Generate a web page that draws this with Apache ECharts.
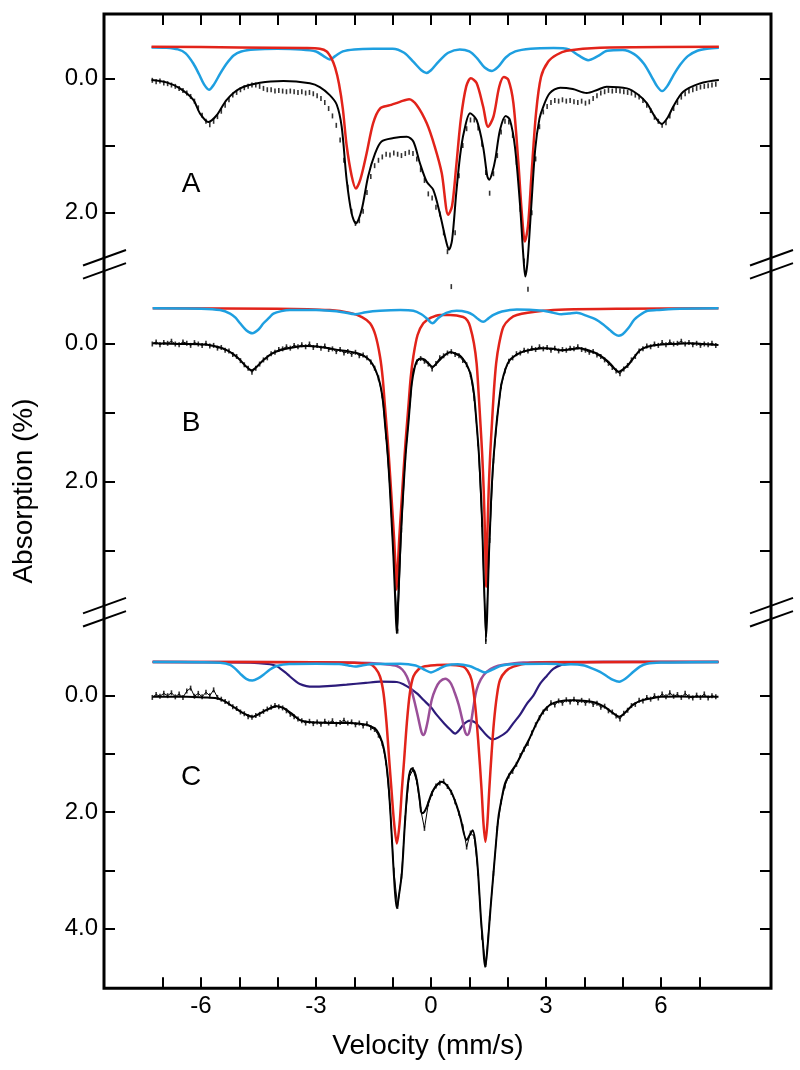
<!DOCTYPE html>
<html><head><meta charset="utf-8">
<script src="https://cdn.jsdelivr.net/npm/echarts/dist/echarts.min.js"></script>
<style>html,body{margin:0;padding:0;background:#fff}#c{width:800px;height:1070px}</style>
</head><body><div id="c"></div>
<script>
// ---------- axis ticks / labels ----------
const X_TICKS = [-7,-6,-5,-4,-3,-2,-1,0,1,2,3,4,5,6,7];
const X_LABELS = [-6,-3,0,3,6];
const A_TICKS = [0,1,2],   A_LABELS = [0,2];
const B_TICKS = [0,1,2,3], B_LABELS = [0,2];
const C_TICKS = [0,1,2,3,4], C_LABELS = [0,2,4];
const PANEL_NAMES = ['A','B','C'];

// ---------- experimental channels (velocity of channel i = VEL0 + i*DV) ----------
const VEL0 = -7.27, DV = 0.1;
const A_DATA = [0.03,0.05,0.04,0.07,0.08,0.10,0.12,0.15,0.18,0.22,
0.27,0.34,0.44,0.55,0.64,0.69,0.64,0.57,0.49,0.40,
0.32,0.25,0.21,0.17,0.14,0.12,0.10,0.10,0.12,0.15,
0.17,0.17,0.19,0.18,0.19,0.20,0.19,0.20,0.21,0.20,
0.22,0.21,0.23,0.26,0.30,0.36,0.45,0.56,0.70,0.92,
1.22,1.62,1.98,2.16,2.12,1.98,1.70,1.46,1.30,1.22,
1.17,1.13,1.14,1.11,1.13,1.15,1.12,1.10,1.12,1.20,
1.36,1.52,1.72,1.78,1.92,2.02,2.30,2.58,3.10,2.30,
1.45,1.00,0.75,0.62,0.62,0.74,0.98,1.40,1.71,1.42,
1.15,0.80,0.64,0.65,0.85,1.25,1.95,2.72,3.14,2.00,
1.20,0.72,0.50,0.42,0.36,0.33,0.34,0.32,0.34,0.33,
0.35,0.36,0.34,0.37,0.35,0.30,0.26,0.22,0.20,0.18,
0.19,0.18,0.19,0.20,0.21,0.22,0.25,0.28,0.33,0.40,
0.48,0.58,0.64,0.70,0.66,0.56,0.45,0.36,0.28,0.23,
0.19,0.17,0.15,0.13,0.12,0.11,0.10,0.09];
const B_DATA = [0.01,-0.02,0.02,-0.01,0.00,-0.03,0.01,0.02,-0.02,0.00,
0.03,-0.01,0.01,0.03,0.00,0.04,0.03,0.07,0.06,0.10,
0.11,0.16,0.19,0.25,0.31,0.36,0.42,0.36,0.30,0.24,
0.21,0.15,0.13,0.09,0.08,0.05,0.07,0.03,0.05,0.02,
0.05,0.01,0.06,0.03,0.07,0.04,0.09,0.08,0.12,0.09,
0.14,0.12,0.16,0.13,0.18,0.17,0.21,0.27,0.36,0.50,
0.76,1.35,2.12,3.15,4.16,2.70,1.65,1.02,0.40,0.27,
0.22,0.26,0.30,0.37,0.29,0.21,0.18,0.14,0.12,0.16,
0.18,0.25,0.31,0.45,0.80,1.45,2.62,4.31,2.85,1.70,
1.08,0.62,0.40,0.26,0.21,0.15,0.14,0.10,0.11,0.07,
0.09,0.05,0.08,0.06,0.10,0.07,0.11,0.09,0.10,0.07,
0.08,0.05,0.09,0.10,0.13,0.12,0.17,0.19,0.24,0.29,
0.35,0.40,0.44,0.37,0.32,0.24,0.19,0.11,0.08,0.04,
0.05,0.01,0.03,-0.01,0.02,-0.02,0.01,0.00,-0.03,0.01,
-0.01,0.02,0.00,0.03,0.01,0.02,0.00,0.03];
const C_DATA = [0.03,-0.02,0.01,-0.04,0.00,-0.05,0.02,-0.03,0.03,-0.08,
-0.13,0.01,-0.04,0.02,-0.06,0.00,-0.10,0.03,0.06,0.10,
0.13,0.19,0.22,0.28,0.31,0.36,0.37,0.34,0.32,0.27,
0.23,0.20,0.17,0.19,0.21,0.26,0.32,0.36,0.40,0.43,
0.47,0.44,0.48,0.45,0.49,0.44,0.47,0.43,0.49,0.46,
0.42,0.47,0.45,0.50,0.47,0.52,0.48,0.55,0.58,0.68,
0.82,1.15,1.90,3.00,3.62,3.10,2.10,1.40,1.27,1.48,
1.95,2.28,1.86,1.68,1.55,1.50,1.47,1.56,1.66,1.82,
2.02,2.25,2.60,2.36,2.42,3.05,4.15,4.62,3.82,3.05,
2.28,1.82,1.55,1.38,1.30,1.18,1.03,0.92,0.82,0.64,
0.50,0.38,0.28,0.22,0.12,0.16,0.09,0.13,0.07,0.11,
0.06,0.12,0.08,0.13,0.09,0.15,0.13,0.20,0.18,0.26,
0.28,0.35,0.40,0.30,0.25,0.17,0.15,0.08,0.09,0.03,
0.06,0.00,0.04,-0.03,0.02,-0.05,0.01,-0.02,0.03,-0.04,
0.02,0.04,-0.01,0.03,-0.03,0.04,0.00,0.02];

// ---------- fitted curves (velocity, absorption) ----------
const A_FIT = [[-7.29,0.025],[-6.9,0.06],[-6.55,0.15],[-6.2,0.32],[-6.03,0.52],[-5.81,0.65],[-5.59,0.55],[-5.33,0.32],[-4.98,0.15],[-4.46,0.065],[-3.85,0.04],[-3.16,0.075],[-2.9,0.13],[-2.64,0.25],[-2.46,0.39],[-2.33,0.72],[-2.20,1.51],[-2.07,2.01],[-1.96,2.16],[-1.81,1.96],[-1.64,1.46],[-1.46,1.12],[-1.29,0.94],[-0.98,0.89],[-0.63,0.87],[-0.46,0.94],[-0.29,1.26],[-0.11,1.54],[0.06,1.66],[0.23,2.01],[0.41,2.46],[0.47,2.55],[0.55,2.41],[0.66,1.70],[0.76,1.15],[0.86,0.80],[1.02,0.52],[1.19,0.62],[1.36,1.02],[1.47,1.46],[1.52,1.51],[1.60,1.40],[1.68,1.20],[1.80,0.77],[1.95,0.56],[2.06,0.62],[2.19,1.02],[2.32,1.86],[2.41,2.65],[2.46,2.95],[2.52,2.72],[2.61,1.96],[2.72,1.05],[2.83,0.60],[2.93,0.42],[3.10,0.22],[3.37,0.14],[3.7,0.16],[4.06,0.22],[4.35,0.17],[4.58,0.125],[5.11,0.15],[5.4,0.24],[5.63,0.37],[5.85,0.58],[6.02,0.68],[6.18,0.58],[6.32,0.42],[6.58,0.2],[7.02,0.075],[7.51,0.025]];
const A_RED = [[-7.29,-0.47],[-5.0,-0.46],[-3.3,-0.45],[-2.9,-0.44],[-2.72,-0.40],[-2.6,-0.30],[-2.5,-0.16],[-2.4,0.08],[-2.3,0.45],[-2.2,1.0],[-2.07,1.45],[-1.96,1.64],[-1.84,1.50],[-1.68,1.12],[-1.51,0.67],[-1.33,0.45],[-1.07,0.40],[-0.81,0.35],[-0.57,0.31],[-0.37,0.40],[-0.11,0.67],[0.10,1.02],[0.28,1.41],[0.45,2.03],[0.55,1.90],[0.66,1.30],[0.78,0.60],[0.92,0.12],[1.04,0.0],[1.19,0.07],[1.36,0.42],[1.49,0.72],[1.63,0.57],[1.78,0.125],[1.90,-0.02],[2.02,0.025],[2.15,0.37],[2.28,1.26],[2.37,2.01],[2.45,2.43],[2.53,2.20],[2.62,1.45],[2.74,0.52],[2.87,-0.02],[3.06,-0.25],[3.28,-0.35],[3.54,-0.41],[4.41,-0.455],[7.51,-0.47]];
const A_SKY = [[-7.29,-0.46],[-6.9,-0.455],[-6.6,-0.43],[-6.4,-0.37],[-6.2,-0.22],[-6.05,-0.06],[-5.92,0.09],[-5.79,0.17],[-5.66,0.09],[-5.5,-0.07],[-5.33,-0.22],[-5.15,-0.34],[-4.95,-0.40],[-4.6,-0.43],[-4.0,-0.44],[-3.4,-0.43],[-3.0,-0.40],[-2.8,-0.33],[-2.64,-0.28],[-2.5,-0.33],[-2.3,-0.40],[-2.0,-0.43],[-1.5,-0.44],[-1.0,-0.44],[-0.7,-0.38],[-0.45,-0.24],[-0.25,-0.12],[-0.12,-0.08],[0.0,-0.12],[0.2,-0.25],[0.45,-0.38],[0.75,-0.43],[1.0,-0.40],[1.2,-0.30],[1.4,-0.16],[1.59,-0.11],[1.75,-0.17],[1.95,-0.31],[2.2,-0.40],[2.6,-0.44],[3.2,-0.45],[3.6,-0.43],[3.85,-0.34],[4.1,-0.27],[4.35,-0.33],[4.6,-0.41],[5.0,-0.42],[5.3,-0.36],[5.55,-0.22],[5.75,-0.03],[5.9,0.12],[6.03,0.19],[6.16,0.12],[6.32,-0.04],[6.5,-0.2],[6.7,-0.33],[6.95,-0.41],[7.2,-0.44],[7.51,-0.455]];

const B_FIT = [[-7.26,0.0],[-6.5,0.01],[-5.85,0.02],[-5.5,0.06],[-5.33,0.10],[-5.15,0.16],[-4.98,0.24],[-4.83,0.33],[-4.68,0.39],[-4.53,0.33],[-4.37,0.24],[-4.15,0.15],[-3.94,0.10],[-3.6,0.06],[-3.24,0.04],[-2.8,0.06],[-2.37,0.10],[-2.11,0.12],[-1.94,0.14],[-1.75,0.18],[-1.59,0.25],[-1.45,0.38],[-1.33,0.58],[-1.25,0.85],[-1.20,1.16],[-1.13,1.6],[-1.07,2.12],[-1.02,2.65],[-0.98,3.08],[-0.93,3.75],[-0.895,4.19],[-0.86,3.75],[-0.81,3.08],[-0.77,2.6],[-0.72,2.12],[-0.66,1.6],[-0.59,1.16],[-0.54,0.82],[-0.50,0.58],[-0.43,0.36],[-0.36,0.25],[-0.25,0.22],[-0.16,0.24],[-0.05,0.30],[0.04,0.34],[0.18,0.27],[0.32,0.19],[0.5,0.13],[0.65,0.15],[0.76,0.18],[0.88,0.26],[0.96,0.34],[1.04,0.46],[1.12,0.72],[1.19,1.16],[1.25,1.6],[1.30,2.12],[1.335,2.6],[1.36,3.08],[1.40,3.75],[1.44,4.24],[1.475,3.75],[1.51,3.08],[1.545,2.6],[1.58,2.12],[1.64,1.6],[1.71,1.16],[1.78,0.82],[1.84,0.58],[1.95,0.36],[2.06,0.24],[2.25,0.16],[2.41,0.12],[2.65,0.09],[2.93,0.07],[3.2,0.08],[3.37,0.10],[3.6,0.09],[3.89,0.07],[4.1,0.1],[4.32,0.145],[4.5,0.21],[4.67,0.29],[4.80,0.37],[4.90,0.41],[5.0,0.38],[5.15,0.31],[5.3,0.2],[5.45,0.10],[5.65,0.05],[5.89,0.025],[6.3,0.01],[6.76,0.0],[7.1,0.01],[7.5,0.025]];
const B_RED = [[-7.26,-0.506],[-4.0,-0.50],[-2.64,-0.48],[-2.11,-0.44],[-1.80,-0.38],[-1.59,-0.29],[-1.45,-0.12],[-1.33,0.19],[-1.26,0.5],[-1.20,0.92],[-1.13,1.4],[-1.07,1.88],[-1.01,2.4],[-0.96,2.84],[-0.92,3.3],[-0.895,3.56],[-0.87,3.3],[-0.83,2.84],[-0.78,2.4],[-0.72,1.88],[-0.66,1.4],[-0.59,0.92],[-0.53,0.5],[-0.46,0.19],[-0.35,-0.12],[-0.20,-0.29],[0.0,-0.37],[0.23,-0.41],[0.5,-0.41],[0.84,-0.38],[0.95,-0.33],[1.02,-0.24],[1.12,0.0],[1.19,0.29],[1.24,0.7],[1.29,1.16],[1.335,1.6],[1.375,2.12],[1.41,2.8],[1.44,3.52],[1.47,2.8],[1.505,2.12],[1.545,1.6],[1.59,1.16],[1.64,0.7],[1.70,0.29],[1.78,0.0],[1.89,-0.24],[2.05,-0.35],[2.24,-0.41],[2.93,-0.47],[3.5,-0.49],[5.0,-0.50],[7.5,-0.506]];
const B_SKY = [[-7.26,-0.506],[-6.0,-0.50],[-5.5,-0.48],[-5.24,-0.43],[-5.1,-0.37],[-4.98,-0.29],[-4.82,-0.19],[-4.66,-0.145],[-4.5,-0.20],[-4.37,-0.29],[-4.22,-0.37],[-4.11,-0.43],[-3.9,-0.465],[-3.68,-0.48],[-3.0,-0.48],[-2.64,-0.47],[-2.3,-0.45],[-1.98,-0.42],[-1.7,-0.45],[-1.33,-0.47],[-0.8,-0.48],[-0.46,-0.47],[-0.25,-0.42],[-0.11,-0.36],[0.04,-0.29],[0.2,-0.37],[0.40,-0.44],[0.67,-0.47],[0.95,-0.45],[1.10,-0.41],[1.23,-0.35],[1.36,-0.31],[1.50,-0.36],[1.63,-0.41],[1.85,-0.46],[2.24,-0.49],[2.93,-0.47],[3.2,-0.44],[3.40,-0.42],[3.6,-0.43],[3.8,-0.44],[4.05,-0.40],[4.32,-0.34],[4.5,-0.27],[4.67,-0.19],[4.80,-0.13],[4.90,-0.11],[5.0,-0.13],[5.15,-0.22],[5.3,-0.34],[5.45,-0.41],[5.65,-0.47],[5.89,-0.48],[6.5,-0.50],[7.5,-0.506]];

const C_FIT = [[-7.26,0.02],[-6.37,0.02],[-5.9,0.03],[-5.59,0.045],[-5.4,0.09],[-5.16,0.19],[-4.90,0.30],[-4.64,0.36],[-4.45,0.30],[-4.29,0.245],[-4.03,0.18],[-3.85,0.21],[-3.65,0.30],[-3.42,0.42],[-3.2,0.45],[-2.98,0.46],[-2.5,0.47],[-2.11,0.47],[-1.68,0.50],[-1.5,0.55],[-1.42,0.59],[-1.33,0.70],[-1.24,0.88],[-1.17,1.15],[-1.11,1.51],[-1.05,2.1],[-0.98,2.94],[-0.93,3.45],[-0.89,3.65],[-0.84,3.45],[-0.76,3.05],[-0.68,2.19],[-0.59,1.45],[-0.50,1.25],[-0.43,1.30],[-0.37,1.45],[-0.30,1.75],[-0.24,2.02],[-0.18,2.0],[-0.11,1.91],[0.06,1.62],[0.28,1.48],[0.50,1.62],[0.65,1.85],[0.76,2.08],[0.93,2.48],[1.02,2.38],[1.09,2.31],[1.17,2.6],[1.23,3.05],[1.30,3.8],[1.35,4.20],[1.41,4.66],[1.45,4.5],[1.49,4.20],[1.56,3.6],[1.63,3.05],[1.70,2.5],[1.76,2.08],[1.85,1.75],[1.93,1.51],[2.05,1.35],[2.24,1.16],[2.4,0.95],[2.58,0.72],[2.75,0.48],[2.93,0.27],[3.1,0.16],[3.32,0.10],[3.7,0.08],[4.05,0.09],[4.3,0.12],[4.55,0.20],[4.75,0.30],[4.91,0.36],[5.05,0.30],[5.28,0.15],[5.5,0.08],[5.8,0.04],[6.0,0.02],[6.5,0.015],[7.0,0.02],[7.5,0.02]];
const C_RED = [[-7.26,-0.58],[-3.0,-0.575],[-2.0,-0.565],[-1.59,-0.545],[-1.45,-0.47],[-1.33,-0.33],[-1.24,-0.05],[-1.16,0.47],[-1.09,1.1],[-1.03,1.62],[-0.96,2.2],[-0.89,2.54],[-0.82,2.2],[-0.76,1.62],[-0.70,1.1],[-0.63,0.47],[-0.55,-0.05],[-0.46,-0.33],[-0.33,-0.45],[-0.20,-0.50],[0.1,-0.525],[0.41,-0.53],[0.84,-0.50],[0.96,-0.42],[1.06,-0.27],[1.15,0.15],[1.23,0.76],[1.32,1.62],[1.37,2.2],[1.42,2.51],[1.47,2.2],[1.52,1.62],[1.58,1.0],[1.64,0.47],[1.72,0.0],[1.80,-0.27],[1.95,-0.42],[2.15,-0.50],[2.58,-0.56],[3.5,-0.575],[7.5,-0.58]];
const C_SKY = [[-7.26,-0.58],[-6.0,-0.575],[-5.5,-0.565],[-5.24,-0.53],[-5.1,-0.46],[-4.98,-0.38],[-4.82,-0.29],[-4.66,-0.26],[-4.5,-0.30],[-4.37,-0.36],[-4.2,-0.45],[-4.03,-0.51],[-3.7,-0.545],[-3.0,-0.55],[-2.4,-0.545],[-2.15,-0.52],[-1.98,-0.50],[-1.8,-0.52],[-1.5,-0.545],[-0.8,-0.55],[-0.4,-0.52],[-0.18,-0.45],[0.0,-0.40],[0.18,-0.45],[0.4,-0.52],[0.7,-0.54],[1.0,-0.51],[1.22,-0.45],[1.41,-0.40],[1.6,-0.45],[1.85,-0.52],[2.24,-0.545],[3.0,-0.55],[3.3,-0.545],[3.45,-0.53],[3.65,-0.54],[4.0,-0.52],[4.2,-0.47],[4.41,-0.41],[4.6,-0.33],[4.75,-0.27],[4.91,-0.24],[5.07,-0.29],[5.28,-0.41],[5.45,-0.50],[5.63,-0.55],[6.0,-0.57],[7.5,-0.58]];
const C_NAVY = [[-7.26,-0.58],[-5.5,-0.575],[-4.5,-0.56],[-4.2,-0.54],[-4.03,-0.51],[-3.94,-0.47],[-3.8,-0.40],[-3.68,-0.33],[-3.55,-0.26],[-3.42,-0.20],[-3.25,-0.165],[-3.07,-0.155],[-2.7,-0.165],[-2.2,-0.19],[-1.7,-0.22],[-1.33,-0.24],[-0.89,-0.235],[-0.7,-0.19],[-0.55,-0.13],[-0.35,-0.03],[-0.20,0.07],[0.0,0.20],[0.15,0.33],[0.35,0.48],[0.50,0.58],[0.63,0.65],[0.75,0.58],[0.84,0.50],[0.93,0.45],[1.02,0.43],[1.15,0.46],[1.28,0.55],[1.45,0.68],[1.60,0.75],[1.75,0.72],[1.98,0.62],[2.15,0.47],[2.32,0.33],[2.50,0.14],[2.67,0.0],[2.84,-0.20],[3.02,-0.34],[3.19,-0.46],[3.4,-0.53],[3.71,-0.57],[4.5,-0.58],[7.5,-0.58]];
const C_MAUVE = [[-7.26,-0.58],[-3.0,-0.575],[-1.59,-0.56],[-1.2,-0.54],[-0.89,-0.51],[-0.75,-0.45],[-0.63,-0.33],[-0.52,-0.12],[-0.42,0.13],[-0.32,0.42],[-0.25,0.62],[-0.20,0.675],[-0.15,0.62],[-0.08,0.42],[0.02,0.07],[0.12,-0.12],[0.23,-0.24],[0.37,-0.29],[0.51,-0.22],[0.62,-0.05],[0.72,0.15],[0.82,0.42],[0.89,0.62],[0.95,0.675],[1.0,0.62],[1.06,0.40],[1.12,0.14],[1.19,-0.10],[1.30,-0.28],[1.45,-0.41],[1.65,-0.49],[1.89,-0.53],[2.41,-0.57],[3.5,-0.58],[7.5,-0.58]];

// ---------- layout ----------
const FONT = "'Liberation Sans', Arial, sans-serif";
const LEFT = 104, RIGHT = 29, TOP = 14, BOTTOM = 988.3;
const XMIN = -8.53, XMAX = 8.87;
const PANELS = [
  {top: 14,    bottom: 264.5, min: -0.957, max: 2.771, ticks: A_TICKS, labels: A_LABELS},
  {top: 264.5, bottom: 612.4, min: -1.139, max: 3.889, ticks: B_TICKS, labels: B_LABELS},
  {top: 612.4, bottom: 988.3, min: -1.431, max: 5.027, ticks: C_TICKS, labels: C_LABELS}
];
const RED = '#e2231a', SKY = '#1e9fe0', NAVY = '#2c1b7a', MAUVE = '#9a4f98', BLACK = '#000';

const grids = [{left: LEFT, right: RIGHT, top: TOP, height: BOTTOM - TOP, show: true,
  borderColor: '#000', borderWidth: 3, backgroundColor: 'transparent', z: 5}];
PANELS.forEach(p => grids.push({left: LEFT, right: RIGHT, top: p.top, height: p.bottom - p.top}));

const tickStyle = {inside: true, length: 11, lineStyle: {color: '#000', width: 2}};
const noLine = {show: false, onZero: false};
const xAxes = [
  {type: 'value', gridIndex: 0, position: 'bottom', min: XMIN, max: XMAX,
   axisLine: noLine, splitLine: {show: false},
   axisTick: Object.assign({customValues: X_TICKS}, tickStyle),
   axisLabel: {customValues: X_LABELS, margin: 6, color: '#000', fontSize: 24, fontFamily: FONT}},
  {type: 'value', gridIndex: 0, position: 'top', min: XMIN, max: XMAX,
   axisLine: noLine, splitLine: {show: false},
   axisTick: Object.assign({customValues: X_TICKS}, tickStyle), axisLabel: {show: false}}
];
PANELS.forEach((p, i) => xAxes.push({type: 'value', gridIndex: i + 1, min: XMIN, max: XMAX, show: false,
  axisLine: noLine}));

const yAxes = [{type: 'value', gridIndex: 0, min: 0, max: 1, show: false, axisLine: noLine}];
PANELS.forEach((p, i) => {
  ['left', 'right'].forEach(pos => {
    yAxes.push({type: 'value', gridIndex: i + 1, position: pos, inverse: true, min: p.min, max: p.max,
      axisLine: noLine, splitLine: {show: false},
      axisTick: Object.assign({customValues: p.ticks}, tickStyle),
      axisLabel: pos === 'left'
        ? {customValues: p.labels, margin: 6, color: '#000', fontSize: 24, fontFamily: FONT,
           formatter: v => Number(v).toFixed(1)}
        : {show: false}});
  });
});

function line(data, panel, color, width, z) {
  return {type: 'line', xAxisIndex: 2 + panel, yAxisIndex: 1 + 2 * panel, data: data,
    symbol: 'none', smooth: 0.3, clip: false, z: z, silent: true,
    lineStyle: {color: color, width: width}};
}
function channelPairs(vals) { return vals.map((v, i) => [VEL0 + i * DV, v]); }
function points(vals, panel) {
  return {type: 'scatter', xAxisIndex: 2 + panel, yAxisIndex: 1 + 2 * panel, clip: false, silent: true,
    data: channelPairs(vals),
    symbol: 'rect', symbolSize: [1.6, 5], itemStyle: {color: '#000'}, z: 2};
}
function trace(vals, panel) {
  return {type: 'line', xAxisIndex: 2 + panel, yAxisIndex: 1 + 2 * panel, data: channelPairs(vals),
    symbol: 'none', clip: false, silent: true, z: 2, lineStyle: {color: '#000', width: 1}};
}

const series = [
  points(A_DATA, 0), line(A_SKY, 0, SKY, 2.5, 3), line(A_RED, 0, RED, 2.5, 4), line(A_FIT, 0, BLACK, 2, 6),
  points(B_DATA, 1), trace(B_DATA, 1), line(B_RED, 1, RED, 2.5, 3), line(B_SKY, 1, SKY, 2.5, 4), line(B_FIT, 1, BLACK, 2, 6),
  points(C_DATA, 2), trace(C_DATA, 2), line(C_NAVY, 2, NAVY, 2.2, 3), line(C_MAUVE, 2, MAUVE, 2.5, 3), line(C_RED, 2, RED, 2.5, 4),
  line(C_SKY, 2, SKY, 2.5, 4), line(C_FIT, 2, BLACK, 2, 6)
];

// axis-break marks and text annotations
const graphic = [];
const breaks = [PANELS[0].bottom, PANELS[1].bottom];
const axX = [LEFT, 800 - RIGHT];
breaks.forEach(cy => axX.forEach(ax => [-6.6, 6.6].forEach(d => {
  graphic.push({type: 'line', z: 100, silent: true,
    shape: {x1: ax - 21, y1: cy + d + 0.36 * 21, x2: ax + 22, y2: cy + d - 0.36 * 22},
    style: {stroke: '#000', lineWidth: 2}});
})));
const letterY = [184, 423, 777];
PANEL_NAMES.forEach((n, i) => graphic.push({type: 'text', x: 191, y: letterY[i], z: 100,
  style: {text: n, fontSize: 28, fontFamily: FONT, fill: '#000', align: 'center', verticalAlign: 'middle'}}));
graphic.push({type: 'text', x: 428, y: 1046, z: 100,
  style: {text: 'Velocity (mm/s)', fontSize: 28, fontFamily: FONT, fill: '#000', align: 'center', verticalAlign: 'middle'}});
graphic.push({type: 'text', x: 24, y: 491, rotation: Math.PI / 2, z: 100,
  style: {text: 'Absorption (%)', fontSize: 28, fontFamily: FONT, fill: '#000', align: 'center', verticalAlign: 'middle'}});

const chart = echarts.init(document.getElementById('c'), null, {renderer: 'canvas'});
chart.setOption({animation: false, backgroundColor: '#fff', grid: grids, xAxis: xAxes, yAxis: yAxes,
  series: series, graphic: graphic});
</script></body></html>
